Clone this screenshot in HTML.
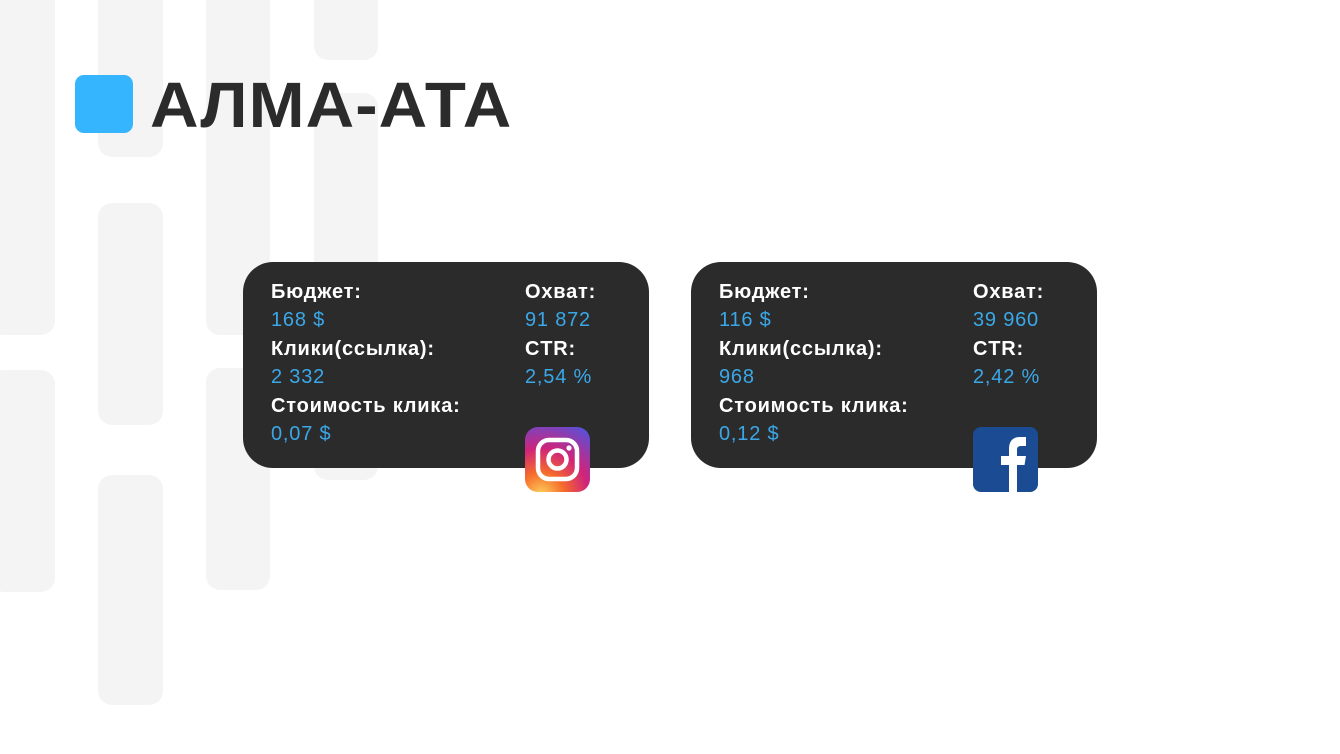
<!DOCTYPE html>
<html><head><meta charset="utf-8"><style>
body{margin:0;width:1340px;height:754px;background:#fff;position:relative;overflow:hidden;font-family:"Liberation Sans",sans-serif}
.p{position:absolute;background:#f4f4f4;border-radius:14px}
.card{position:absolute;top:262px;width:406px;height:206px;background:#2b2b2b;border-radius:30px}
.t{position:absolute;font-size:20px;line-height:20px;white-space:nowrap;letter-spacing:0.8px}
.l{color:#fff;font-weight:bold}
.v{color:#3aa8e8}
</style></head><body>
<div class="p" style="left:-10px;top:-20px;width:65px;height:355px"></div>
<div class="p" style="left:-10px;top:370px;width:65px;height:222px"></div>
<div class="p" style="left:98px;top:-20px;width:65px;height:177px"></div>
<div class="p" style="left:98px;top:203px;width:65px;height:222px"></div>
<div class="p" style="left:98px;top:475px;width:65px;height:230px"></div>
<div class="p" style="left:206px;top:-20px;width:64px;height:355px"></div>
<div class="p" style="left:206px;top:368px;width:64px;height:222px"></div>
<div class="p" style="left:314px;top:-20px;width:64px;height:80px"></div>
<div class="p" style="left:314px;top:93px;width:64px;height:387px"></div>

<div style="position:absolute;left:75px;top:75px;width:58px;height:58px;background:#35b5fd;border-radius:9px"></div>
<div style="position:absolute;left:150px;top:70px;font-size:64px;line-height:70px;font-weight:bold;color:#2b2b2b;letter-spacing:1px;transform:scaleX(1.05);transform-origin:left">АЛМА-АТА</div>

<div class="card" style="left:243px"></div>
<div class="card" style="left:691px"></div>

<div class="t l" style="left:271px;top:282px">Бюджет:</div>
<div class="t v" style="left:271px;top:310px">168 $</div>
<div class="t l" style="left:271px;top:339px">Клики(ссылка):</div>
<div class="t v" style="left:271px;top:367px">2 332</div>
<div class="t l" style="left:271px;top:396px">Стоимость клика:</div>
<div class="t v" style="left:271px;top:424px">0,07 $</div>
<div class="t l" style="left:525px;top:282px">Охват:</div>
<div class="t v" style="left:525px;top:310px">91 872</div>
<div class="t l" style="left:525px;top:339px">CTR:</div>
<div class="t v" style="left:525px;top:367px">2,54 %</div>

<div class="t l" style="left:719px;top:282px">Бюджет:</div>
<div class="t v" style="left:719px;top:310px">116 $</div>
<div class="t l" style="left:719px;top:339px">Клики(ссылка):</div>
<div class="t v" style="left:719px;top:367px">968</div>
<div class="t l" style="left:719px;top:396px">Стоимость клика:</div>
<div class="t v" style="left:719px;top:424px">0,12 $</div>
<div class="t l" style="left:973px;top:282px">Охват:</div>
<div class="t v" style="left:973px;top:310px">39 960</div>
<div class="t l" style="left:973px;top:339px">CTR:</div>
<div class="t v" style="left:973px;top:367px">2,42 %</div>

<svg style="position:absolute;left:525px;top:427px" width="65" height="65" viewBox="0 0 65 65">
<defs><radialGradient id="ig" cx="0.25" cy="1.05" r="1.2">
<stop offset="0" stop-color="#fdd35b"/><stop offset="0.3" stop-color="#f56a2b"/><stop offset="0.6" stop-color="#d0247a"/><stop offset="1" stop-color="#5b4fd6"/></radialGradient></defs>
<rect width="65" height="65" rx="13" fill="url(#ig)"/>
<rect x="13" y="13" width="39" height="39" rx="11" fill="none" stroke="#fff" stroke-width="4.5"/>
<circle cx="32.5" cy="32.5" r="9" fill="none" stroke="#fff" stroke-width="4.5"/>
<circle cx="44" cy="21" r="2.6" fill="#fff"/>
</svg>
<svg style="position:absolute;left:973px;top:427px" width="65" height="65" viewBox="0 0 65 65">
<rect width="65" height="65" rx="8" fill="#1b4b92"/>
<path d="M36 65V38h-8v-9h8v-7c0-8 4-12 11-12h6v9h-5c-3 0-4 1.5-4 4v6h9l-1.5 9H44v27z" fill="#fff"/>
</svg>
</body></html>
